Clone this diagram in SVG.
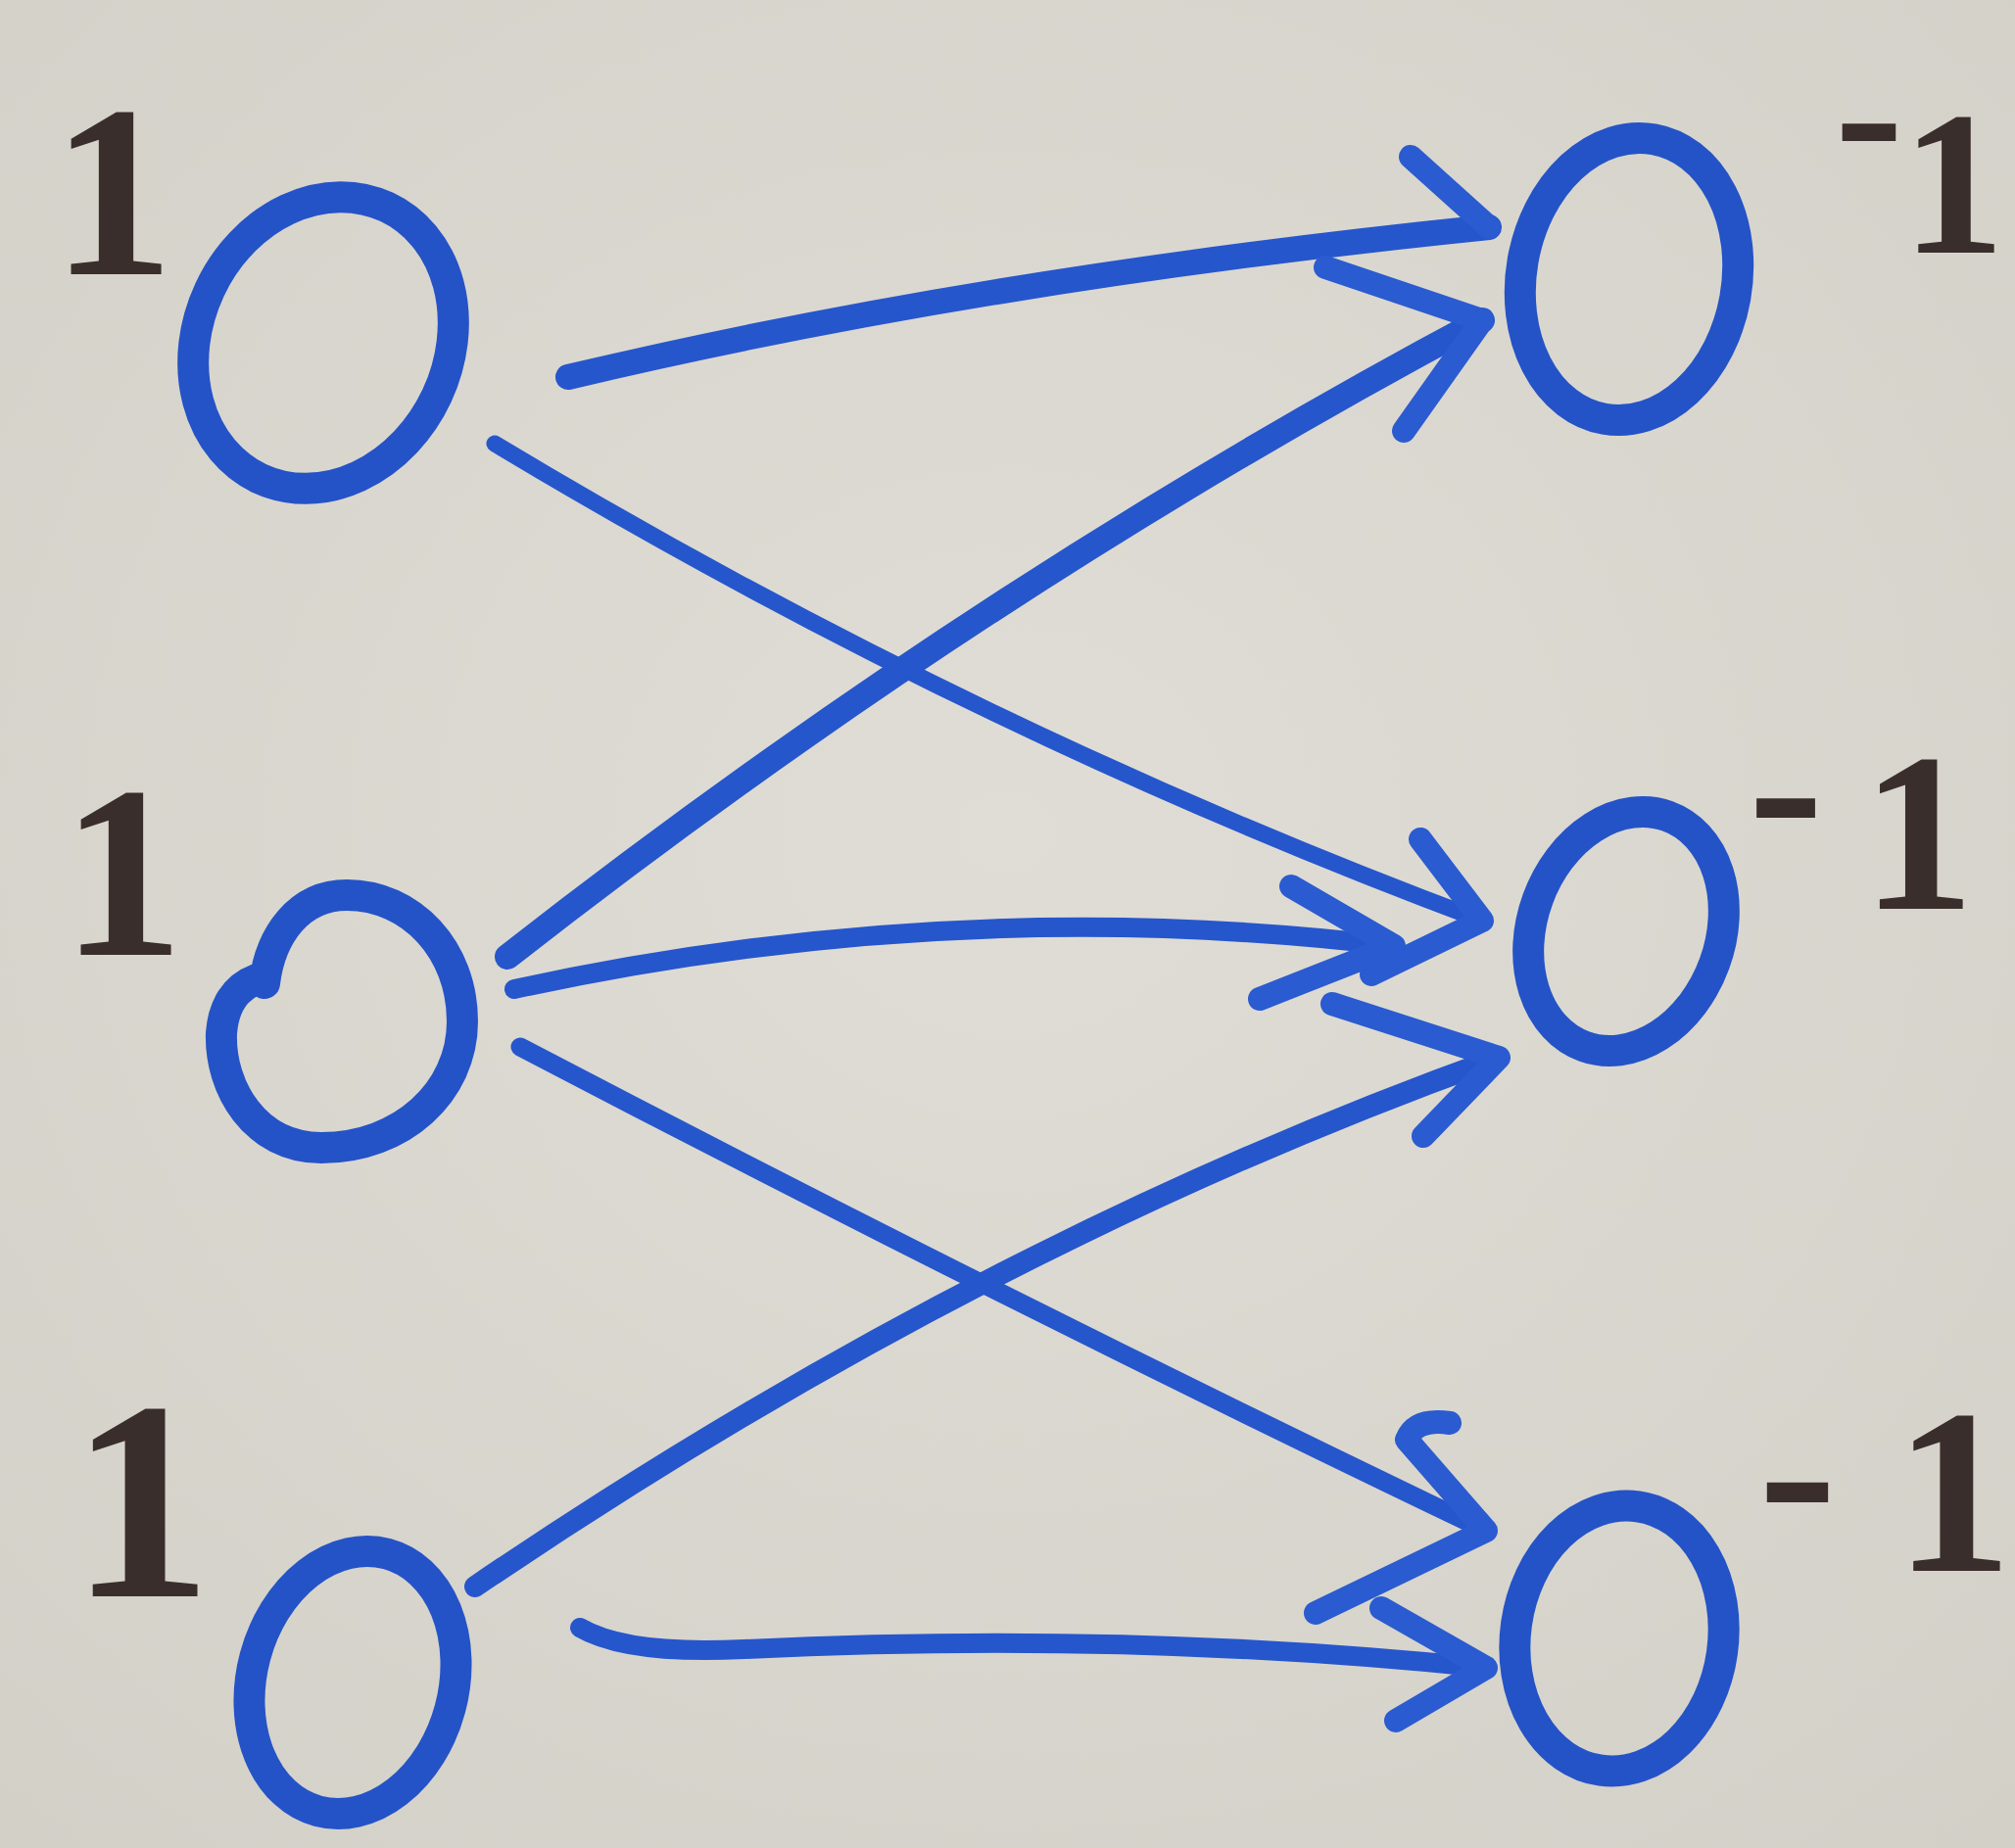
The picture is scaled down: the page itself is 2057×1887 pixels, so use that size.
<svg xmlns="http://www.w3.org/2000/svg" width="2057" height="1887" viewBox="0 0 2057 1887">
  <defs>
    <style>
      .node { fill: none; stroke: #2453c7; stroke-width: 32; stroke-linecap: round; }
      .edge { fill: none; stroke: #2656cc; stroke-linecap: round; stroke-linejoin: round; }
      .head { fill: none; stroke: #2a5bd0; stroke-width: 24; stroke-linecap: round; stroke-linejoin: round; }
      .lbl { font-family: "Liberation Serif", "DejaVu Serif", serif; font-weight: bold; fill: #3a2e2c; text-anchor: middle; }
    </style>
    <radialGradient id="paper" cx="50%" cy="45%" r="75%">
      <stop offset="0" stop-color="#e0ddd6"/>
      <stop offset="1" stop-color="#d3d0c8"/>
    </radialGradient>
  </defs>
  <rect x="0" y="0" width="2057" height="1887" fill="url(#paper)"/>

  <g id="connectors">
    <!-- A: top-left -> top-right -->
    <path class="edge" stroke-width="26" d="M 580 385 Q 1000 285 1520 232"/>
    <path class="head" d="M 1440 160 L 1520 232"/>
    <!-- B: top-left -> middle-right -->
    <path class="edge" stroke-width="17" d="M 505 453 Q 990 745 1513 940"/>
    <path class="head" stroke-width="22" d="M 1450 857 L 1513 940 L 1400 995"/>
    <!-- C: middle-left -> top-right -->
    <path class="edge" stroke-width="26" d="M 518 977 Q 1000 600 1513 327"/>
    <path class="head" d="M 1353 273 L 1513 327 L 1433 440"/>
    <!-- D: middle-left -> middle-right -->
    <path class="edge" stroke-width="20" d="M 525 1010 Q 975 912 1423 966"/>
    <path class="head" stroke-width="22" d="M 1318 905 L 1423 966 L 1286 1020"/>
    <!-- E: bottom-left -> middle-right -->
    <path class="edge" stroke-width="22" d="M 485 1620 Q 1000 1270 1530 1080"/>
    <path class="head" d="M 1360 1025 L 1530 1080 L 1453 1160"/>
    <!-- F: middle-left -> bottom-right -->
    <path class="edge" stroke-width="19" d="M 531 1069 Q 1030 1330 1517 1563"/>
    <path class="head" stroke-width="22" d="M 1480 1453 Q 1445 1448 1436 1470 L 1517 1563 L 1343 1647"/>
    <!-- G: bottom-left -> bottom-right -->
    <path class="edge" stroke-width="20" d="M 592 1662 Q 640 1690 760 1684 Q 1150 1665 1517 1703"/>
    <path class="head" stroke-width="22" d="M 1410 1642 L 1517 1703 L 1425 1757"/>
  </g>

  <g id="node-l1">
    <ellipse class="node" cx="330" cy="350" rx="128" ry="153" transform="rotate(25 330 350)"/>
  </g>
  <g id="node-l2">
    <path class="node" d="M 270 1004 C 276 955 305 914 354 914 C 420 914 472 970 472 1043 C 472 1115 410 1172 328 1172 C 260 1172 224 1110 226 1055 C 228 1028 240 1008 262 1000"/>
  </g>
  <g id="node-l3">
    <ellipse class="node" cx="360" cy="1718" rx="103" ry="136" transform="rotate(15 360 1718)"/>
  </g>
  <g id="node-r1">
    <ellipse class="node" cx="1663" cy="285" rx="110" ry="145" transform="rotate(10 1663 285)"/>
  </g>
  <g id="node-r2">
    <ellipse class="node" cx="1660" cy="951" rx="96" ry="125" transform="rotate(20 1660 951)"/>
  </g>
  <g id="node-r3">
    <ellipse class="node" cx="1653" cy="1673" rx="106" ry="136" transform="rotate(8 1653 1673)"/>
  </g>

  <g id="labels">
    <text class="lbl" x="115" y="280" font-size="250">1</text>
    <text class="lbl" x="125" y="975" font-size="250">1</text>
    <text class="lbl" x="144" y="1630" font-size="290">1</text>
    <text class="lbl" font-size="210"><tspan x="1908" y="185">-</tspan><tspan x="1994" y="258">1</tspan></text>
    <text class="lbl" font-size="230"><tspan x="1823" y="880">-</tspan><tspan x="1958" y="928">1</tspan></text>
    <text class="lbl" font-size="240"><tspan x="1835" y="1580">-</tspan><tspan x="1994" y="1604">1</tspan></text>
  </g>
</svg>
